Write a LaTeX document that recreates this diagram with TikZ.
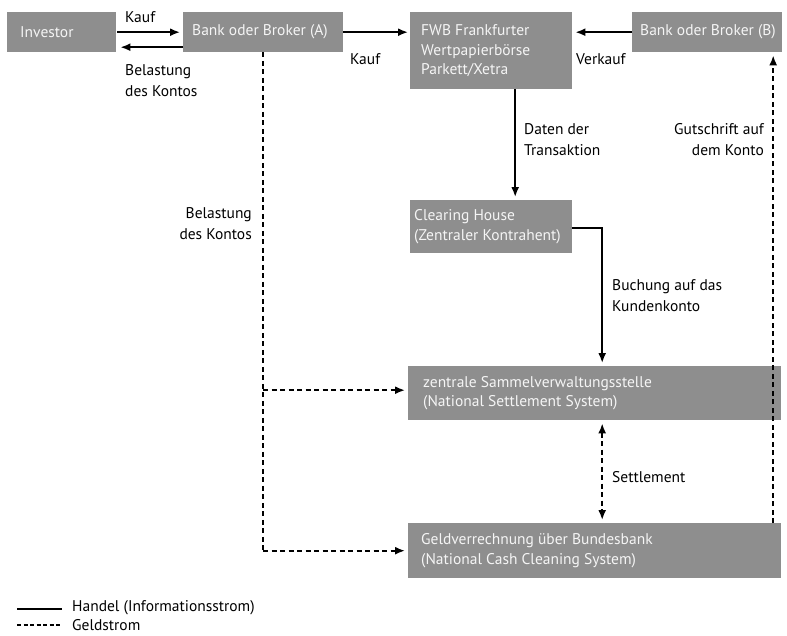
\documentclass[tikz,border=0pt]{standalone}
\usepackage{fontspec}
\setmainfont{PT Sans}
\usetikzlibrary{arrows.meta,calc}
\definecolor{boxgray}{RGB}{142,142,142}
\definecolor{boxtext}{RGB}{245,245,245}
\tikzset{
  box/.style={fill=boxgray, text=boxtext, anchor=north west, inner sep=0pt},
  lbl/.style={font=\fontsize{15.5}{21}\selectfont, inner sep=0pt, text=black},
  intext/.style={lbl, text=boxtext, align=left, font=\fontsize{15.5}{19.5}\selectfont},
  conn/.style={line width=1.8pt, -{Latex[length=10pt,width=8pt]}},
  money/.style={conn, dash pattern=on 5pt off 3.5pt},
  plain/.style={line width=1.8pt},
}
\begin{document}
\begin{tikzpicture}[x=1pt,y=-1pt]
\useasboundingbox (0,0) rectangle (787,635);
% boxes
\node[box, minimum width=109pt, minimum height=40pt] (inv) at (7,12) {};
\node[intext, anchor=west] (invt) at (20,32) {Investor};
\node[box, minimum width=160pt, minimum height=40pt] (ba) at (183,12) {};
\node[intext, anchor=west] (bat) at (192,32) {Bank oder Broker (A)};
\node[box, minimum width=162pt, minimum height=77pt] (fwb) at (410,12) {};
\node[intext, anchor=west] (fwbt) at (421,51) {FWB Frankfurter\\Wertpapierbörse\\Parkett/Xetra};
\node[box, minimum width=150pt, minimum height=40pt] (bb) at (632,12) {};
\node[intext, anchor=west] (bbt) at (640,32) {Bank oder Broker (B)};
\node[box, minimum width=162pt, minimum height=53pt] (ch) at (410,200) {};
\node[intext, anchor=west] (cht) at (414,226.5) {Clearing House\\(Zentraler Kontrahent)};
\node[box, minimum width=373pt, minimum height=54pt] (zen) at (408,366) {};
\node[intext, anchor=west] (zent) at (423,393) {zentrale Sammelverwaltungsstelle\\(National Settlement System)};
\node[box, minimum width=373pt, minimum height=55pt] (geld) at (408,523) {};
\node[intext, anchor=west] (geldt) at (421,550.5) {Geldverrechnung über Bundesbank\\(National Cash Cleaning System)};

% solid connectors
\draw[conn, shorten <=1pt, shorten >=3pt] (inv.east) -- (inv.east -| ba.west);
\draw[conn, shorten >=4pt] ([yshift=-15pt]ba.west) -- ([yshift=-15pt]ba.west -| inv.east);
\draw[conn, shorten >=2pt] (ba.east) -- (ba.east -| fwb.west);
\draw[conn, shorten >=3pt] (bb.west) -- (bb.west -| fwb.east);
\draw[conn, shorten >=3pt] ([xshift=24pt]fwb.south) -- ([xshift=24pt]fwb.south |- ch.north);
\draw[conn, shorten >=3pt] ([yshift=-1.5pt]ch.east) -| ([xshift=7.5pt]zen.north);

% dashed connectors
\coordinate (turn) at (ba.south |- geld.west);
\draw[plain, dash pattern=on 5pt off 3.5pt] (ba.south) -- (turn);
\draw[money, shorten >=3pt] ([yshift=3pt]ba.south |- zen.west) -- ([yshift=3pt]zen.west);
\draw[money, shorten >=3pt] (turn) -- (geld.west);
\draw[money, {Latex[length=10pt,width=8pt]}-{Latex[length=10pt,width=8pt]}, shorten <=3pt, shorten >=3pt] ([xshift=7.5pt]zen.south) -- ([xshift=7.5pt]geld.north);
\coordinate (gb) at ([xshift=178.5pt]geld.north);
\draw[money, shorten >=3pt] (gb) -- (gb |- bb.south);

% labels
\node[lbl, anchor=base west] (l1) at (125,22) {Kauf};
\node[lbl, anchor=north west, align=left] (l2) at (125,64) {Belastung\\des Kontos};
\node[lbl, anchor=base west] (l3) at (350,64) {Kauf};
\node[lbl, anchor=base west] (l4) at (576,64) {Verkauf};
\node[lbl, anchor=north west, align=left] (l5) at (524,123) {Daten der\\Transaktion};
\node[lbl, anchor=north east, align=right] (l6) at (764,123) {Gutschrift auf\\dem Konto};
\node[lbl, anchor=north east, align=right] (l7) at (252,207) {Belastung\\des Kontos};
\node[lbl, anchor=north west, align=left] (l8) at (612,279) {Buchung auf das\\Kundenkonto};
\node[lbl, anchor=west] (l9) at (612,477) {Settlement};

% legend
\coordinate (la) at (17,609); \coordinate (lb) at (62,609);
\draw[plain, line width=1.5pt] (la) -- (lb);
\node[lbl, anchor=west, font=\fontsize{15.5}{16}\selectfont] (lg1) at (72,608) {Handel (Informationsstrom)};
\coordinate (lc) at (17,625); \coordinate (ld) at (62,625);
\draw[plain, line width=1.3pt, dash pattern=on 4pt off 2.5pt] (lc) -- (ld);
\node[lbl, anchor=west, font=\fontsize{15.5}{16}\selectfont] (lg2) at (72,625) {Geldstrom};
\end{tikzpicture}
\end{document}
